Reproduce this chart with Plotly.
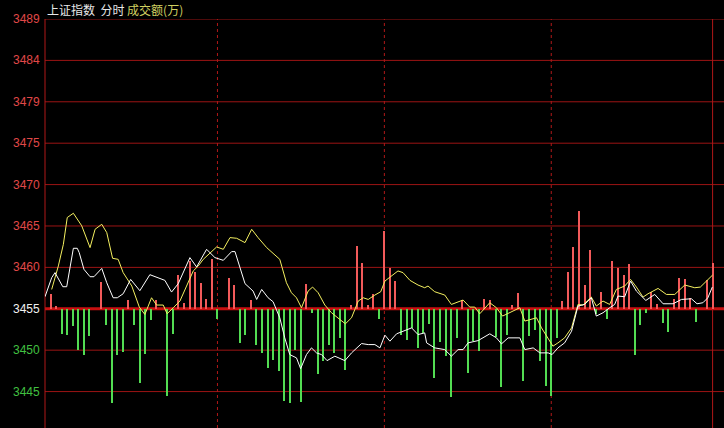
import plotly.graph_objects as go

# ---- data (minutes since open, index level) ----
prev_close = 3455.0
step = 4.88
tick_labels = ["3445", "3450", "3455", "3460", "3465", "3470", "3475", "3479", "3484", "3489"]

white_x = [0, 2.4, 3.6, 6.4, 7.8, 10.2, 11.6, 12.3, 14.0, 16.2, 17.6, 20.4, 22.2, 24.5, 26.0, 28.1, 30.8, 33.0, 34.1,
           37.7, 40.7, 43.1, 45.5, 47.9, 52.1, 54.5, 58.1, 61.1, 64.1, 67.1, 68.3, 71.9, 74.8, 76.1, 77.9, 80.2, 82.0,
           84.4, 86.2, 88.0, 90.4, 91.9, 94.0, 95.8, 97.6, 99.4, 101.4, 104.2, 107.8, 110.2, 113.8, 116.2, 118.6, 120.4,
           122.2, 124.0, 126.4, 128.7, 131.8, 134.1, 136.5, 137.2, 140.1, 143.7, 146.1, 148.5, 150.3, 152.1, 155.7,
           159.9, 162.3, 164.1, 166.5, 170.7, 172.5, 175.5, 177.9, 180.9, 182.3, 184.4, 186.8, 189.3, 191.6, 194.0,
           196.4, 198.2, 200.6, 203.0, 204.8, 206.0, 208.4, 210.5, 212.6, 216.0, 219.2, 222.2, 225.8, 228.8, 232.4,
           234.4, 236.5, 238.3, 239.9]
white_y = [3456.42, 3458.66, 3459.26, 3457.60, 3457.60, 3462.13, 3462.13, 3461.62, 3459.65, 3458.78, 3458.78, 3459.76,
           3458.07, 3456.30, 3456.30, 3456.77, 3458.46, 3457.60, 3457.13, 3459.02, 3458.66, 3458.35, 3456.97, 3457.96,
           3461.03, 3459.93, 3462.01, 3461.03, 3460.71, 3461.74, 3461.74, 3457.96, 3457.09, 3456.10, 3457.28, 3456.30,
           3455.83, 3453.94, 3451.57, 3449.60, 3449.21, 3447.94, 3449.60, 3450.39, 3449.80, 3449.60, 3448.89, 3449.41,
           3448.89, 3449.80, 3450.90, 3450.78, 3450.78, 3450.39, 3451.89, 3451.18, 3452.05, 3452.36, 3452.75, 3451.96,
           3452.16, 3450.98, 3450.39, 3450.19, 3449.41, 3450.19, 3450.19, 3450.98, 3451.25, 3452.05, 3451.57, 3450.86,
           3451.57, 3451.57, 3450.19, 3450.39, 3449.80, 3449.80, 3449.60, 3450.39, 3450.98, 3452.36, 3455.32, 3455.51,
           3456.30, 3454.14, 3454.53, 3455.12, 3455.51, 3456.50, 3456.42, 3458.27, 3457.09, 3455.98, 3456.69, 3455.59,
           3455.59, 3456.10, 3456.18, 3455.59, 3455.71, 3456.30, 3457.56]

yellow_x = [2.4, 4.8, 6.6, 8.0, 10.2, 13.2, 16.2, 18.0, 20.4, 22.2, 24.3, 26.3, 28.1, 31.2, 33.9, 35.9, 38.3, 40.1,
            42.5, 43.9, 46.1, 48.5, 50.9, 53.3, 55.1, 56.9, 61.7, 64.1, 66.5, 68.9, 71.9, 74.3, 76.6, 79.7, 84.4, 86.8,
            88.6, 90.4, 92.2, 94.6, 96.2, 98.2, 100.6, 103.0, 106.0, 108.0, 110.2, 112.6, 114.4, 116.2, 118.6, 120.7,
            122.2, 124.6, 126.9, 128.7, 131.2, 134.1, 136.5, 137.7, 140.1, 143.7, 146.1, 150.3, 152.7, 154.5, 156.3,
            159.9, 162.3, 164.5, 167.1, 170.7, 172.5, 174.9, 176.7, 178.5, 182.6, 184.4, 186.8, 189.3, 191.6, 193.4,
            196.4, 198.2, 200.6, 203.0, 204.8, 205.4, 208.4, 210.5, 212.6, 215.0, 216.8, 220.4, 223.4, 226.4, 230.0,
            233.6, 235.6, 237.8, 240.0]
yellow_y = [3457.28, 3460.05, 3462.60, 3465.76, 3466.26, 3464.78, 3462.21, 3464.37, 3464.96, 3463.98, 3460.95, 3460.83,
            3459.26, 3457.68, 3455.20, 3454.33, 3456.30, 3455.44, 3455.44, 3454.41, 3455.12, 3455.91, 3457.68, 3459.46,
            3460.05, 3460.83, 3462.29, 3462.01, 3463.39, 3463.31, 3462.80, 3464.37, 3463.39, 3462.21, 3460.83, 3458.07,
            3456.89, 3456.30, 3455.12, 3457.09, 3457.56, 3456.89, 3455.44, 3454.53, 3453.74, 3453.23, 3453.94, 3455.91,
            3456.30, 3456.10, 3456.62, 3457.01, 3458.27, 3458.87, 3459.46, 3459.26, 3458.35, 3457.80, 3457.48, 3457.68,
            3457.01, 3456.62, 3455.51, 3456.03, 3455.20, 3455.20, 3454.41, 3455.71, 3455.12, 3454.14, 3454.53, 3455.12,
            3453.55, 3453.74, 3453.94, 3452.75, 3450.59, 3450.98, 3451.57, 3452.75, 3455.51, 3455.44, 3456.38, 3455.32,
            3455.91, 3455.51, 3456.89, 3457.28, 3457.68, 3458.46, 3457.56, 3456.38, 3456.77, 3457.40, 3456.69, 3456.69,
            3457.80, 3457.48, 3457.56, 3458.27, 3458.98]

bar_x = [2, 4, 6, 8, 10, 12, 14, 16, 20, 22, 24, 26, 28, 30, 32, 34, 36, 38, 40, 44, 46, 48, 50, 52, 54, 56, 58, 60,
         62, 66, 68, 70, 72, 74, 76, 78, 80, 82, 84, 86, 88, 90, 92, 94, 96, 98, 100, 102, 104, 106, 108, 110, 112,
         114, 116, 118, 120, 122, 124, 126, 128, 130, 132, 134, 136, 138, 140, 142, 144, 146, 148, 150, 152, 154, 156,
         158, 160, 162, 164, 166, 168, 170, 172, 174, 176, 178, 180, 182, 184, 186, 188, 190, 192, 194, 196, 198, 200,
         202, 204, 206, 208, 210, 212, 214, 216, 218, 220, 222, 224, 226, 228, 230, 232, 234, 238, 240]
bar_v = [1.69, 0.27, -2.96, -3.04, -2.04, -4.81, -5.40, -3.16, 3.19, -1.86, -11.11, -5.47, -5.08, 0.98, -1.86, -8.75,
         -5.28, -1.38, 0.98, -10.32, -2.96, 3.98, 0.71, 5.67, 4.37, 3.07, 1.10, 5.83,
         -1.26, 3.66, 2.80, -4.02, -3.11, 1.03, -4.22, -5.20, -6.97, -5.99, -7.36, -10.84, -11.11, -4.81, -10.99, 2.96,
         -0.47, -7.68, -6.18, -4.22, -5.20, -3.43, -7.17, 0.44, 7.41, 5.44, 0.44, 1.69, -1.15, 9.18, 4.85, 3.27,
         -3.04, -3.63, -2.25, -4.61, -2.84, -1.77, -8.16, -3.90, -5.59, -10.44, -3.43, 0.98, -7.57, -3.82, -4.97,
         1.10, 1.00, -3.35, -9.26, -3.11, 0.44, 1.89, -8.47, -3.23, -2.45, -6.18, -9.14, -10.32, -3.43, 0.91, 4.37,
         7.29, 11.55, 2.80, 6.89, -0.67, 2.01, -1.26, 5.64, 4.85, 3.98, 5.32, -5.47, -1.86, -0.47, 2.01, 0.59, -1.65,
         -2.72, 1.10, 3.66, 3.46, 1.22, -1.54, 3.35, 5.44]

section_marks = [62, 122, 182, 240]

# ---- styling ----
RED_BAR = "#f25a5a"
GREEN_BAR = "#52dc52"
GRID = "#9c1414"
LABEL_RED = "#e04848"
LABEL_GREEN = "#40c040"

fig = go.Figure()

fig.add_trace(go.Bar(
    x=bar_x, y=bar_v, base=prev_close, width=0.38,
    marker=dict(color=[RED_BAR if v > 0 else GREEN_BAR for v in bar_v], line=dict(width=0)),
    hoverinfo="skip", showlegend=False,
))
fig.add_trace(go.Scatter(x=yellow_x, y=yellow_y, mode="lines",
                         line=dict(color="#f4f060", width=1), hoverinfo="skip", showlegend=False))
fig.add_trace(go.Scatter(x=white_x, y=white_y, mode="lines",
                         line=dict(color="#ffffff", width=1), hoverinfo="skip", showlegend=False))

tick_vals = [prev_close + (k - 2) * step for k in range(len(tick_labels))]
y_top = prev_close + 7 * step
y_bot = prev_close - 2.88 * step

shapes = []
for v in tick_vals:
    main = abs(v - prev_close) < 1e-9
    shapes.append(dict(type="line", xref="paper", x0=0, x1=1, yref="y", y0=v, y1=v, layer="below",
                       line=dict(color="#c81010" if main else GRID, width=3 if main else 1)))
shapes.append(dict(type="line", xref="paper", x0=0, x1=0, yref="paper", y0=0, y1=1, layer="below",
                   line=dict(color="#b01818", width=1)))
for i, m in enumerate(section_marks):
    last = i == len(section_marks) - 1
    shapes.append(dict(type="line", xref="x", x0=m, x1=m, yref="paper", y0=0, y1=1, layer="below",
                       line=dict(color="#b01818", width=1, dash="solid" if last else "dot")))

annotations = []
for v, t in zip(tick_vals, tick_labels):
    if abs(v - prev_close) < 1e-9:
        c = "#f0f0f0"
    elif v > prev_close:
        c = LABEL_RED
    else:
        c = LABEL_GREEN
    annotations.append(dict(xref="paper", x=0, xanchor="right", xshift=-3, yref="y", y=v, yanchor="middle",
                            text=t, showarrow=False, font=dict(color=c, size=12, family="Liberation Sans, Arial")))
annotations.append(dict(xref="paper", x=0, xanchor="left", xshift=0, yref="paper", y=1, yanchor="bottom", yshift=-1,
                        text="上证指数  分时 <span style='color:#d0d060'>成交额(万)</span>", showarrow=False,
                        font=dict(color="#e8e8e8", size=12, family="Noto Sans CJK SC")))

fig.update_layout(
    width=724, height=428,
    margin=dict(l=45, r=0, t=19, b=0),
    paper_bgcolor="#000000", plot_bgcolor="#000000",
    xaxis=dict(range=[0, 244.1], showgrid=False, zeroline=False, showticklabels=False, ticks="", fixedrange=True),
    yaxis=dict(range=[y_bot, y_top], showgrid=False, zeroline=False, showticklabels=False, ticks="", fixedrange=True),
    shapes=shapes, annotations=annotations,
    bargap=0, showlegend=False, hovermode=False,
)

fig.write_html("out.html", config={"displayModeBar": False},
               post_script="document.body.style.margin='0';document.body.style.background='#000';")
